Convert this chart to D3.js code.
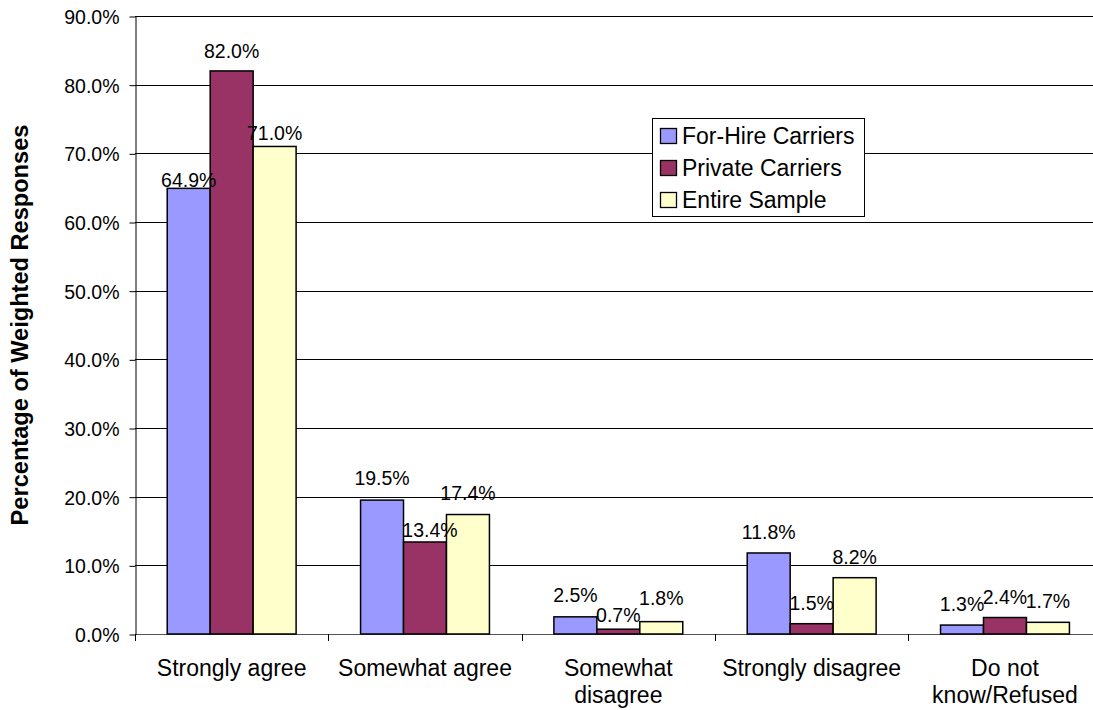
<!DOCTYPE html>
<html>
<head>
<meta charset="utf-8">
<script src="https://cdn.jsdelivr.net/npm/d3@7"></script>
<style>
  html, body { margin: 0; padding: 0; background: #fff; }
  svg { display: block; font-family: "Liberation Sans", Arial, sans-serif; }
</style>
</head>
<body>
<svg id="chart" width="1093" height="710"></svg>
<script>
// ---- data ----
const categories = ["Strongly agree", "Somewhat agree", "Somewhat disagree", "Strongly disagree", "Do not know/Refused"];
const categoryLines = [["Strongly agree"], ["Somewhat agree"], ["Somewhat", "disagree"], ["Strongly disagree"], ["Do not", "know/Refused"]];
const seriesNames = ["For-Hire Carriers", "Private Carriers", "Entire Sample"];
const forHire = [64.9, 19.5, 2.5, 11.8, 1.3];
const privateCarriers = [82.0, 13.4, 0.7, 1.5, 2.4];
const entireSample = [71.0, 17.4, 1.8, 8.2, 1.7];
const yTicks = [0, 10, 20, 30, 40, 50, 60, 70, 80, 90];

// ---- styles / layout ----
const colors = ["#9999FF", "#993366", "#FFFFCC"];
const seriesValues = [forHire, privateCarriers, entireSample];
// label placement tweaks (pixels) to mimic the original's hand-placed labels
const labelNudge = {
  "0|0": {dx: 0, dy: 12.7}, "0|1": {dx: 0, dy: 1.3}, "0|2": {dx: 0, dy: 7.6},
  "1|0": {dx: 0, dy: -1}, "1|1": {dx: 5, dy: 8.7}, "1|2": {dx: 0, dy: -0.5},
  "2|0": {dx: 0, dy: -1}, "2|1": {dx: 0, dy: 6.5}, "2|2": {dx: 0, dy: -2.6}
};

(function () {
const svg = d3.select("#chart");
const mLeft = 135, mTop = 16, mBottom = 634;
const x0 = d3.scaleBand().domain(categories).range([mLeft, mLeft + 5 * 193.33]).paddingInner(1/3).paddingOuter(1/6);
const x1 = d3.scaleBand().domain(seriesNames).range([0, x0.bandwidth()]);
const y = d3.scaleLinear().domain([0, 90]).range([mBottom, mTop]);

// gridlines
svg.append("g").selectAll("line").data(yTicks).join("line")
  .attr("x1", mLeft).attr("x2", 1093)
  .attr("y1", d => Math.round(y(d)) + 0.5).attr("y2", d => Math.round(y(d)) + 0.5)
  .attr("stroke", d => d === 0 ? "#555" : "#000").attr("stroke-width", 1);

// y axis
const yAxis = d3.axisLeft(y).tickValues(yTicks).tickFormat(d => d3.format(".1f")(d) + "%").tickSize(6).tickSizeOuter(0);
const gy = svg.append("g").attr("transform", `translate(${mLeft + 0.5},0.5)`).call(yAxis);
gy.select(".domain").attr("stroke", "#000");
gy.selectAll(".tick line").attr("stroke", "#000");
gy.selectAll(".tick text").attr("font-size", "19.5px").attr("fill", "#000")
  .attr("font-family", "'Liberation Sans', Arial, sans-serif").attr("x", -16).attr("dy", "0.36em");

// category ticks
const bounds = d3.range(0, 6).map(i => mLeft + i * x0.step());
svg.append("g").selectAll("line").data(bounds).join("line")
  .attr("x1", d => Math.round(d) + 0.5).attr("x2", d => Math.round(d) + 0.5)
  .attr("y1", mBottom).attr("y2", mBottom + 7).attr("stroke", "#000");

// bars
const groups = svg.append("g").selectAll("g").data(categories).join("g")
  .attr("transform", d => `translate(${x0(d)},0)`);
groups.selectAll("rect").data((c, ci) => seriesNames.map((s, si) => ({c, ci, s, si, v: seriesValues[si][ci]})))
  .join("rect")
  .attr("x", d => x1(d.s))
  .attr("width", x1.bandwidth())
  .attr("y", d => y(d.v))
  .attr("height", d => y(0) - y(d.v))
  .attr("fill", d => colors[d.si])
  .attr("stroke", "#000").attr("stroke-width", 1.5);

// value labels
groups.selectAll("text").data((c, ci) => seriesNames.map((s, si) => ({c, ci, s, si, v: seriesValues[si][ci]})))
  .join("text")
  .attr("x", d => x1(d.s) + x1.bandwidth() / 2 + ((labelNudge[d.ci + "|" + d.si] || {}).dx || 0))
  .attr("y", d => y(d.v) - 14 + ((labelNudge[d.ci + "|" + d.si] || {}).dy || 0))
  .attr("text-anchor", "middle")
  .attr("font-size", "19.5px").attr("fill", "#000")
  .text(d => d3.format(".1f")(d.v) + "%");

// category labels
const cl = svg.append("g").selectAll("text").data(categories).join("text")
  .attr("x", d => x0(d) + x0.bandwidth() / 2)
  .attr("y", 676)
  .attr("text-anchor", "middle")
  .attr("font-size", "23px").attr("fill", "#000");
cl.each(function(d, i) {
  d3.select(this).selectAll("tspan").data(categoryLines[i]).join("tspan")
    .attr("x", x0(d) + x0.bandwidth() / 2)
    .attr("dy", (t, j) => j === 0 ? 0 : 27)
    .text(t => t);
});

// y axis title
svg.append("text")
  .attr("transform", "translate(28,325) rotate(-90)")
  .attr("text-anchor", "middle")
  .attr("font-size", "23.6px").attr("font-weight", "bold").attr("fill", "#000")
  .text("Percentage of Weighted Responses");

// legend
const lg = svg.append("g");
lg.append("rect").attr("x", 652.5).attr("y", 118.5).attr("width", 212).attr("height", 98)
  .attr("fill", "#fff").attr("stroke", "#000").attr("stroke-width", 1);
const items = lg.selectAll("g").data(seriesNames).join("g")
  .attr("transform", (d, i) => `translate(0,${144 + i * 32})`);
items.append("rect").attr("x", 660.5).attr("y", -15.5).attr("width", 16).attr("height", 15)
  .attr("fill", (d, i) => colors[i]).attr("stroke", "#000").attr("stroke-width", 1.3);
items.append("text").attr("x", 682).attr("y", 0)
  .attr("font-size", "23px").attr("fill", "#000").text(d => d);
})();
</script>
</body>
</html>
